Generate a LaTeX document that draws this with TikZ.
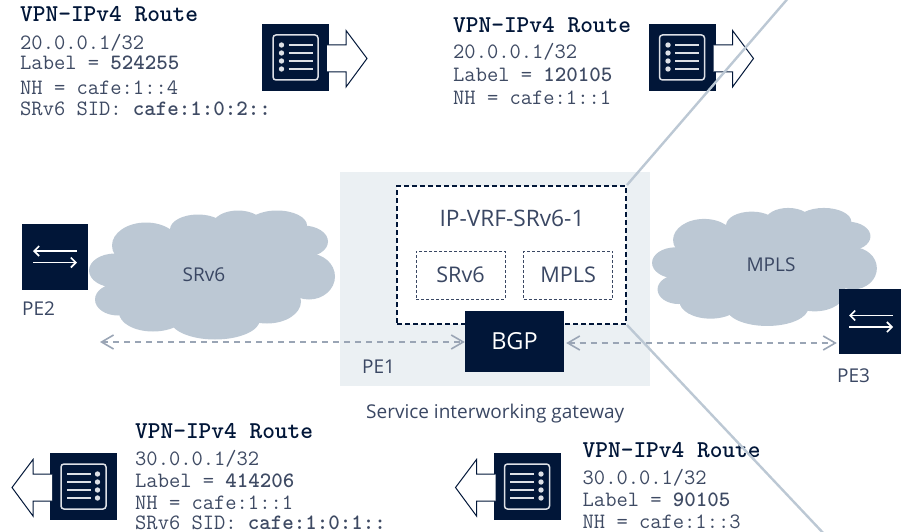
\documentclass[tikz,border=0pt]{standalone}
\usepackage{fontspec}
\setmainfont{Open Sans}
\usepackage{tikz}
\usetikzlibrary{arrows.meta,positioning}
\definecolor{navy}{HTML}{011638}
\definecolor{inktext}{HTML}{3A4763}
\definecolor{monotext}{HTML}{3E4A63}
\definecolor{cloudgrey}{HTML}{BCC8D4}
\definecolor{linkgrey}{HTML}{9AA5B5}
\definecolor{panel}{HTML}{EBF0F3}
\definecolor{iconline}{HTML}{DDE0E6}

\begin{document}
\begin{tikzpicture}[x=1pt,y=-1pt]
		\tikzstyle{routehead} = [anchor=base west, inner sep=0, text=navy, font=\ttfamily\bfseries\fontsize{24.2}{24.2}\selectfont]
		\tikzstyle{routeline} = [anchor=base west, inner sep=0, text=monotext, font=\ttfamily\fontsize{21.9}{21.9}\selectfont]
		\tikzstyle{caption} = [anchor=base west, inner sep=0, text=inktext, font=\fontsize{19}{19}\selectfont]
		\tikzstyle{cloudname} = [inner sep=0, text=inktext, font=\fontsize{19}{19}\selectfont]
		\tikzstyle{pebox} = [fill=navy, inner sep=0, minimum width=66pt, minimum height=66pt]
		\tikzstyle{vrfpart} = [draw=inktext, line width=0.6pt, densely dashed, inner sep=0, minimum width=89pt, minimum height=48pt, text=inktext, font=\fontsize{21.6}{21.6}\selectfont]
		\tikzstyle{link} = [linkgrey, line width=1.6pt, dash pattern=on 6pt off 5pt, {Straight Barb[length=12pt,width=14pt]}-{Straight Barb[length=12pt,width=14pt]}]
		\tikzstyle{spoke} = [cloudgrey, line width=2.4pt]
		\tikzset{
			routeicon/.pic={
				\fill [navy] (-33.5,-33.5) rectangle (33.5,33.5);
				\draw [navy, fill=white, line width=1pt] (31.5,-12.5) -- (50.5,-12.5) -- (50.5,-27) -- (71.5,1) -- (50.5,29.5) -- (50.5,14.5) -- (31.5,14.5);
				\draw [iconline, line width=1.5pt, rounded corners=3pt] (-22.5,-22.5) rectangle (22.5,22.5);
				\foreach \y in {-12.5,-4.5,3.5,11.5} {
					\fill [iconline] (-14,\y) circle (2.7);
					\draw [iconline, line width=1.5pt] (-7,\y) -- (17,\y);
				}
			},
			swapicon/.pic={
				\draw [-{Straight Barb[length=5pt,width=10pt]}, white, line width=1.6pt] (22,-6) -- (-22,-6);
				\draw [-{Straight Barb[length=5pt,width=10pt]}, white, line width=1.6pt] (-22,5.5) -- (22,5.5);
			},
			cloudblob/.pic={
				\foreach \cx/\cy/\rx/\ry in {-96.5/-4/26/17, -93.5/25/23/16, -65.5/-29/34/23, -58.5/38/34/19, 3.5/45/45/20, 55.5/27/34/22, 97.5/2/26/23, 91.5/-33/25/16, 65.5/-49/30/15, 26.5/-50/25/14, -13.5/-45/28/15, 0/0/95/48} {
					\fill [cloudgrey] (\cx,\cy) ellipse (\rx pt and \ry pt);
				}
			}
		}
		\clip (0,0) rectangle (901,532);
		\node (pe1Panel) [fill=panel, inner sep=0, minimum width=310pt, minimum height=214pt] at (495,279) {};
		\pic at (211.5,274.5) {cloudblob};
		\pic [xscale=0.914, yscale=0.915] at (764,266.5) {cloudblob};
		\node (srv6Name) [cloudname] at (204,275) {SRv6};
		\node (mplsName) [cloudname] at (771,265) {MPLS};
		\node (vrf) [draw=navy, fill=white, line width=2pt, dash pattern=on 5pt off 3pt, inner sep=0, minimum width=229pt, minimum height=138pt] at (511.5,255) {};
		\node (vrfName) [text=inktext, font=\fontsize{22.7}{22.7}\selectfont] at (512,218) {IP-VRF-SRv6-1};
		\node (srv6Part) [vrfpart] at (460.5,275) {SRv6};
		\node (mplsPart) [vrfpart, right=18pt of srv6Part] {MPLS};
		\node (bgp) [fill=navy, inner sep=0, minimum width=99pt, minimum height=61pt, text=white, font=\fontsize{23.5}{23.5}\selectfont] at (514.5,341.5) {BGP};
		\node (pe2) [pebox] at (55,257) {};
		\node (pe3) [pebox, minimum width=62pt, minimum height=65pt] at (870,321.5) {};
		\pic at (55,257) {swapicon};
		\pic at (871,321.5) {swapicon};
		\node (pe2Name) [caption] at (22,315) {PE2};
		\node (pe1Name) [caption] at (362,373) {PE1};
		\node (pe3Name) [caption] at (837,382) {PE3};
		\node (gatewayName) [caption] at (366,418) {Service interworking gateway};
		\coordinate (srv6End) at (100,342);
		\coordinate (mplsLevel) at (0,343);
		\draw [link] (srv6End) -- (bgp.west |- srv6End);
		\draw [link, shorten <=2pt, shorten >=2pt] (bgp.east |- mplsLevel) -- (pe3.west |- mplsLevel);
		\pic at (295.5,57.5) {routeicon};
		\node (headA) [routehead] at (20,22) {VPN-IPv4 Route};
		\node (prefixA) [routeline] at (20,50) {20.0.0.1/32};
		\node (labelA) [routeline] at (20,70) {Label = \textbf{524255}};
		\node (hopA) [routeline] at (20,95) {NH = cafe:1::4};
		\node (sidA) [routeline] at (20,115) {SRv6 SID: \textbf{cafe:1:0:2::}};
		\pic at (682,57.5) {routeicon};
		\node (headB) [routehead] at (453,33) {VPN-IPv4 Route};
		\node (prefixB) [routeline] at (453,59) {20.0.0.1/32};
		\node (labelB) [routeline] at (453,82) {Label = \textbf{120105}};
		\node (hopB) [routeline] at (453,105) {NH = cafe:1::1};
		\pic [xscale=-1] at (83.5,486.5) {routeicon};
		\node (headC) [routehead] at (135,438) {VPN-IPv4 Route};
		\node (prefixC) [routeline] at (135,465) {30.0.0.1/32};
		\node (labelC) [routeline] at (135,487) {Label = \textbf{414206}};
		\node (hopC) [routeline] at (135,509) {NH = cafe:1::1};
		\node (sidC) [routeline] at (135,529) {SRv6 SID: \textbf{cafe:1:0:1::}};
		\pic [xscale=-1] at (527,486.5) {routeicon};
		\node (headD) [routehead] at (582.5,457) {VPN-IPv4 Route};
		\node (prefixD) [routeline] at (582.5,484) {30.0.0.1/32};
		\node (labelD) [routeline] at (582.5,506) {Label = \textbf{90105}};
		\node (hopD) [routeline] at (582.5,528) {NH = cafe:1::3};
		\coordinate (spokeTop) at (790,-4);
		\coordinate (spokeBottom) at (826,536);
		\draw [spoke] (vrf.north east) -- (spokeTop);
		\draw [spoke] (vrf.south east) -- (spokeBottom);
\end{tikzpicture}
\end{document}
